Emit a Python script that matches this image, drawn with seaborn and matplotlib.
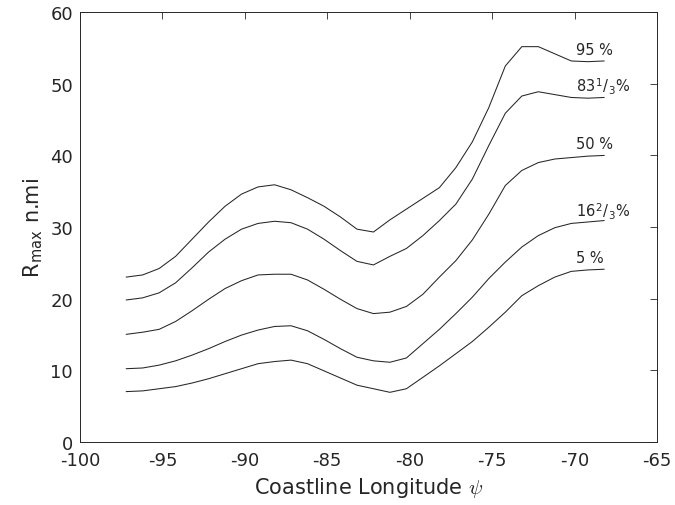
import numpy as np
import pandas as pd
import seaborn as sns
import matplotlib
matplotlib.use("Agg")
import matplotlib.pyplot as plt

# Data
longitude = [-97.2, -96.2, -95.2, -94.2, -93.2, -92.2, -91.2, -90.2, -89.2, -88.2,
             -87.2, -86.2, -85.2, -84.2, -83.2, -82.2, -81.2, -80.2, -79.2, -78.2,
             -77.2, -76.2, -75.2, -74.2, -73.2, -72.2, -71.2, -70.2, -69.2, -68.2]

p95 = [23.0, 23.3, 24.2, 25.9, 28.3, 30.7, 32.9, 34.6, 35.6, 35.9,
       35.2, 34.1, 32.9, 31.4, 29.7, 29.3, 31.0, 32.5, 34.0, 35.5,
       38.3, 41.9, 46.7, 52.5, 55.2, 55.2, 54.2, 53.2, 53.1, 53.2]
p83 = [19.8, 20.1, 20.8, 22.2, 24.3, 26.5, 28.3, 29.7, 30.5, 30.8,
       30.6, 29.7, 28.3, 26.7, 25.2, 24.7, 25.9, 27.0, 28.8, 30.9,
       33.2, 36.7, 41.4, 45.9, 48.3, 48.9, 48.5, 48.1, 48.0, 48.1]
p50 = [15.0, 15.3, 15.7, 16.8, 18.3, 19.9, 21.4, 22.5, 23.3, 23.4,
       23.4, 22.6, 21.3, 19.9, 18.6, 17.9, 18.1, 18.9, 20.6, 23.0,
       25.3, 28.2, 31.8, 35.8, 37.9, 39.0, 39.5, 39.7, 39.9, 40.0]
p17 = [10.2, 10.3, 10.7, 11.3, 12.1, 13.0, 14.0, 14.9, 15.6, 16.1,
       16.2, 15.5, 14.3, 13.0, 11.8, 11.3, 11.1, 11.7, 13.7, 15.7,
       17.9, 20.2, 22.8, 25.1, 27.2, 28.8, 29.9, 30.5, 30.7, 30.9]
p05 = [7.0, 7.1, 7.4, 7.7, 8.2, 8.8, 9.5, 10.2, 10.9, 11.2,
       11.4, 10.9, 9.9, 8.9, 7.9, 7.4, 6.9, 7.4, 9.0, 10.6,
       12.3, 14.0, 16.0, 18.1, 20.4, 21.8, 23.0, 23.8, 24.0, 24.1]

series_names = ["95 %", r"83$^{\mathregular{1}}$/$_{\mathregular{3}}$%", "50 %",
                r"16$^{\mathregular{2}}$/$_{\mathregular{3}}$%", "5 %"]
series_values = [p95, p83, p50, p17, p05]
label_x = -69.9
label_y = [54.8, 49.7, 41.6, 32.3, 25.8]

x_ticks = [-100, -95, -90, -85, -80, -75, -70, -65]
y_ticks = [0, 10, 20, 30, 40, 50, 60]

df = pd.concat([pd.DataFrame({"lon": longitude, "R": vals, "pct": name})
                for name, vals in zip(series_names, series_values)], ignore_index=True)

sns.set_style("white")
plt.rcParams["font.family"] = ["DejaVu Sans"]
plt.rcParams["mathtext.fontset"] = "cm"
plt.rcParams["axes.unicode_minus"] = False

fg = "#262626"
fig = plt.figure(figsize=(6.75, 5.06), dpi=100)
ax = fig.add_axes([80/675, 1 - 442.7/506, 577/675, 429.4/506])

sns.lineplot(data=df, x="lon", y="R", hue="pct", palette=[fg]*5, legend=False,
             linewidth=0.75, ax=ax, sort=False)

for name, ly in zip(series_names, label_y):
    ax.text(label_x, ly, name, fontsize=10.5, color=fg, ha="left", va="center")

ax.set_xlim(-100, -65)
ax.set_ylim(0, 60)
ax.set_xticks(x_ticks)
ax.set_yticks(y_ticks)
ax.set_xticklabels([str(t) for t in x_ticks])
ax.set_yticklabels([str(t) for t in y_ticks])
ax.tick_params(direction="in", length=5, width=0.6, color=fg, labelcolor=fg,
               labelsize=13, top=True, right=True)
ax.tick_params(axis="x", pad=7)
ax.tick_params(axis="y", pad=5)
for s in ax.spines.values():
    s.set_color(fg)
    s.set_linewidth(0.7)
    s.set_visible(True)

ax.set_xlabel(r"Coastline Longitude $\psi$", fontsize=15, color=fg, labelpad=4)
ax.set_ylabel(r"R$_{\mathregular{max}}$ n.mi", fontsize=15, color=fg, labelpad=4)

fig.savefig("out.png", dpi=100)
